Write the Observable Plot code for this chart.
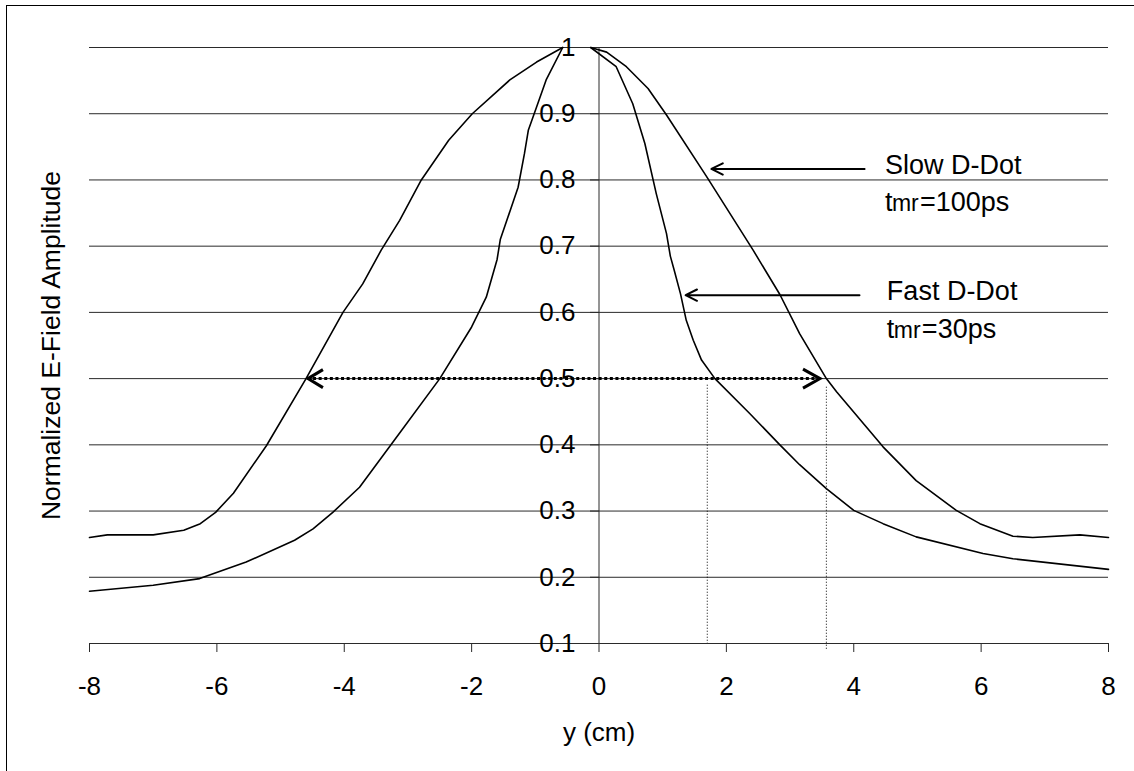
<!DOCTYPE html>
<html><head><meta charset="utf-8">
<script src="https://cdn.jsdelivr.net/npm/d3@7"></script>
<script src="https://cdn.jsdelivr.net/npm/@observablehq/plot@0.6"></script>
<style>
html,body{margin:0;padding:0;background:#fff;}
#wrap{position:relative;width:1134px;height:771px;overflow:hidden;}
#border{position:absolute;left:6px;top:5px;width:1300px;height:900px;border-left:1px solid #000;border-top:1px solid #000;pointer-events:none;}
</style></head><body>
<div id="wrap"><div id="chart"></div><div id="border"></div></div>
<script>
// ---- tick values / labels ----
const xTicks = [-8, -6, -4, -2, 0, 2, 4, 6, 8];
const xTickLabels = ["-8", "-6", "-4", "-2", "0", "2", "4", "6", "8"];
const yTicks = [0.1, 0.2, 0.3, 0.4, 0.5, 0.6, 0.7, 0.8, 0.9, 1.0];
const yTickLabels = ["0.1", "0.2", "0.3", "0.4", "0.5", "0.6", "0.7", "0.8", "0.9", "1"];

// ---- series (y in cm, normalized amplitude) ----
const slowLeft = [[-8, 0.26], [-7.72, 0.264], [-7.0, 0.264], [-6.52, 0.271], [-6.26, 0.281], [-6.02, 0.298],
  [-5.74, 0.327], [-5.22, 0.399], [-4.6, 0.50], [-4.02, 0.60], [-3.71, 0.643], [-3.42, 0.694], [-3.13, 0.739],
  [-2.79, 0.80], [-2.36, 0.86], [-1.99, 0.90], [-1.40, 0.951], [-0.98, 0.978], [-0.57, 1.0]];
const slowRight = [[-0.13, 1.0], [0.12, 0.993], [0.43, 0.971], [0.77, 0.938], [1.06, 0.898], [1.69, 0.805],
  [2.42, 0.694], [2.84, 0.627], [3.15, 0.568], [3.57, 0.50], [3.73, 0.48], [4.46, 0.397], [4.98, 0.346],
  [5.61, 0.301], [5.98, 0.281], [6.50, 0.262], [6.81, 0.26], [7.55, 0.264], [8, 0.26]];
const fastLeft = [[-8, 0.179], [-7.0, 0.188], [-6.27, 0.198], [-5.54, 0.223], [-4.78, 0.256], [-4.49, 0.273],
  [-4.18, 0.298], [-3.76, 0.336], [-3.13, 0.418], [-2.50, 0.50], [-2.0, 0.578], [-1.77, 0.623], [-1.60, 0.68],
  [-1.55, 0.71], [-1.27, 0.789], [-1.17, 0.84], [-1.11, 0.875], [-0.98, 0.910], [-0.83, 0.951], [-0.57, 1.0]];
const fastRight = [[-0.13, 1.0], [0.27, 0.971], [0.53, 0.915], [0.72, 0.855], [0.90, 0.779], [1.06, 0.719],
  [1.12, 0.685], [1.18, 0.664], [1.28, 0.628], [1.37, 0.588], [1.48, 0.558], [1.61, 0.528], [1.82, 0.50],
  [2.37, 0.447], [2.84, 0.40], [3.15, 0.370], [3.57, 0.334], [4.0, 0.301], [4.46, 0.281], [4.98, 0.261],
  [6.03, 0.236], [6.5, 0.228], [8, 0.212]];

// ---- annotations ----
const curveLabels = [{x: 4.49, y: 0.8086, text: "Slow D-Dot"}, {x: 4.52, y: 0.6183, text: "Fast D-Dot"}];
const riseLabels = [{x: 4.49, y: 0.7527, rest: "=100ps"}, {x: 4.52, y: 0.5619, rest: "=30ps"}];
const pointerArrows = [{x1: 4.17, y1: 0.8166, x2: 1.765, y2: 0.8166}, {x1: 4.09, y1: 0.626, x2: 1.36, y2: 0.626}];
const fwhm = [{y: 0.5, x1: -4.57, x2: 3.47}];
const markers = [{x: 1.70, y1: 0.49, y2: 0.1}, {x: 3.57, y1: 0.487, y2: 0.09}];

const series = [
  {key: "slowL", pts: slowLeft}, {key: "slowR", pts: slowRight},
  {key: "fastL", pts: fastLeft}, {key: "fastR", pts: fastRight}
];
const lineData = series.flatMap(s => s.pts.map(([x, y]) => ({x, y, key: s.key})));

const tickLeft = {draw(ctx) { ctx.moveTo(0, 0); ctx.lineTo(-9, 0); }};
const headLeft = {draw(ctx) { ctx.moveTo(15, -9); ctx.lineTo(0, 0); ctx.lineTo(15, 9); }};
const headRight = {draw(ctx) { ctx.moveTo(-17, -9.5); ctx.lineTo(0, 0); ctx.lineTo(-17, 9.5); }};

const F = "'Liberation Sans', Arial, sans-serif";
const chart = Plot.plot({
  width: 1134, height: 771,
  marginLeft: 89, marginRight: 26, marginTop: 47, marginBottom: 128,
  style: {fontFamily: F, fontSize: "26px", color: "#000", background: "transparent"},
  x: {domain: [-8, 8]},
  y: {domain: [0.1, 1], axis: null},
  marks: [
    Plot.ruleY(yTicks, {y: d => d, x1: -8, x2: 8, stroke: "#2a2a2a", strokeWidth: 1}),
    Plot.ruleX([0], {x: d => d, y1: 0.1, y2: 1, stroke: "#2a2a2a", strokeWidth: 1}),
    Plot.dot(yTicks, {x: () => 0, y: d => d, symbol: tickLeft, fill: "none", stroke: "#2a2a2a", strokeWidth: 1}),
    Plot.axisX(xTicks, {tickSize: 9, tickPadding: 24, fontSize: 26, stroke: "#2a2a2a", fill: "#000",
      tickFormat: (d) => xTickLabels[xTicks.indexOf(d)], label: null}),
    Plot.text(yTicks, {x: () => 0, y: d => d, text: (d, i) => yTickLabels[i], dx: -23.5,
      textAnchor: "end", lineAnchor: "middle", fontSize: 26, fill: "#000"}),
    Plot.ruleX(markers, {x: "x", y1: "y1", y2: "y2", stroke: "#000", strokeWidth: 1, strokeDasharray: "1,2"}),
    Plot.line(lineData, {x: "x", y: "y", z: "key", stroke: "#000", strokeWidth: 1.6}),
    Plot.ruleY(fwhm, {y: "y", x1: "x1", x2: "x2", stroke: "#000", strokeWidth: 3, strokeDasharray: "3,2.6"}),
    Plot.dot(fwhm, {x: "x1", y: "y", symbol: headLeft, fill: "none", stroke: "#000", strokeWidth: 3}),
    Plot.dot(fwhm, {x: "x2", y: "y", symbol: headRight, fill: "none", stroke: "#000", strokeWidth: 3}),
    Plot.arrow(pointerArrows, {x1: "x1", y1: "y1", x2: "x2", y2: "y2", stroke: "#000", strokeWidth: 2,
      headAngle: 53, headLength: 9.5}),
    Plot.text(curveLabels, {x: "x", y: "y", text: "text", textAnchor: "start", lineAnchor: "bottom", fontSize: 27, fill: "#000"}),
    Plot.text(riseLabels, {x: "x", y: "y", text: () => "t", textAnchor: "start", lineAnchor: "bottom", fontSize: 27, fill: "#000"}),
    Plot.text(riseLabels, {x: "x", y: "y", text: () => "mr", dx: 7, textAnchor: "start", lineAnchor: "bottom", fontSize: 23, fill: "#000"}),
    Plot.text(riseLabels, {x: "x", y: "y", text: "rest", dx: 35, textAnchor: "start", lineAnchor: "bottom", fontSize: 27, fill: "#000"}),
    Plot.text(["Normalized E-Field Amplitude"], {frameAnchor: "left", dx: -30, rotate: -90, textAnchor: "middle",
      lineAnchor: "bottom", fontSize: 26.5, fill: "#000"}),
    Plot.text(["y (cm)"], {frameAnchor: "bottom", dy: 97, textAnchor: "middle", lineAnchor: "bottom", fontSize: 26, fill: "#000"})
  ]
});
document.getElementById("chart").appendChild(chart);
</script>
</body></html>
